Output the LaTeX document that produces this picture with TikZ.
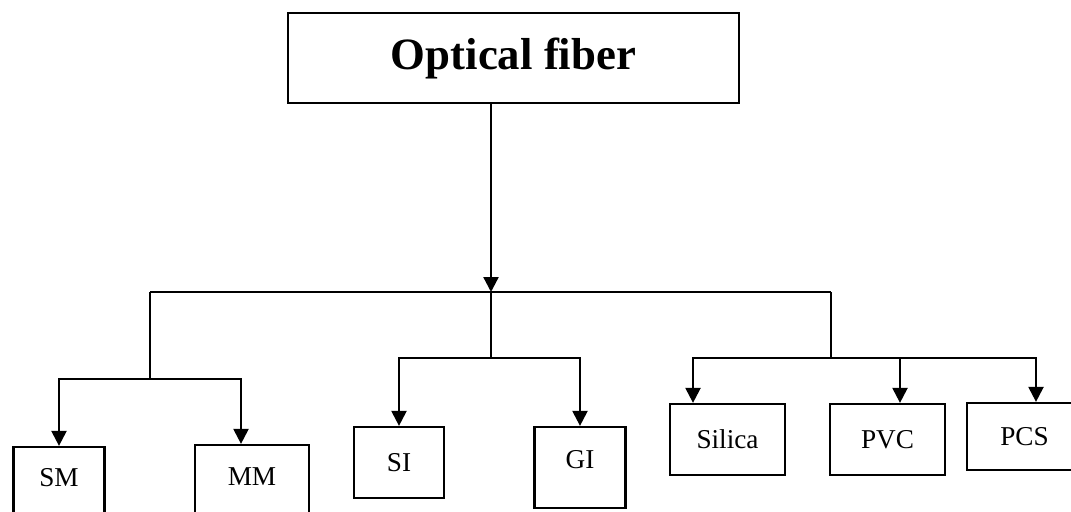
\documentclass[tikz,border=0pt]{standalone}
\usepackage{fontspec}
\setmainfont{Liberation Serif}
\usetikzlibrary{arrows.meta, positioning, calc}

\tikzset{
  fbox/.style={draw=black, line width=1.3pt, inner sep=0pt, minimum height=1.42cm, font=\fontsize{15.5}{18}\selectfont},
  flink/.style={line width=1.3pt},
  farrow/.style={line width=1.3pt, -{Triangle[length=0.3cm, width=0.3cm]}}
}

\begin{document}
\begin{tikzpicture}[x=0.02cm, y=-0.02cm]
  \useasboundingbox (0,0) rectangle (1071,511);
  % Root
  \node[draw=black, line width=1.3pt, minimum width=9.02cm, minimum height=1.8cm, font=\fontsize{25.5}{30}\selectfont\bfseries] (OF) at (513.5, 58) {Optical fiber};
  % Mode
  \node[fbox, minimum width=1.82cm, minimum height=1.8cm, text depth=0.6cm] (SM) at (59, 492) {SM};
  \node[fbox, minimum width=2.28cm, minimum height=1.8cm, text depth=0.52cm] (MM) at (252, 490) {MM};
  % Index profile
  \node[fbox, minimum width=1.8cm] (SI) at (399, 462.5) {SI};
  \node[fbox, minimum width=1.82cm, minimum height=1.62cm, text depth=0.32cm] (GI) at (580, 467.5) {GI};
  % Material
  \node[fbox, minimum width=2.3cm] (Silica) at (727.5, 439.5) {Silica};
  \node[fbox, minimum width=2.3cm] (PVC) at (887.5, 439.5) {PVC};
  \node[fbox, minimum width=2.3cm, minimum height=1.34cm] (PCS) at (1024.5, 436.5) {PCS};
  % Junctions
  \coordinate (hub) at (491, 292);
  \coordinate (lft) at (150, 292);
  \coordinate (rgt) at (831, 292);
  \coordinate (lftb) at (150, 379);
  \coordinate (midb) at (491, 358);
  \coordinate (rgtb) at (831, 358);
  % Trunk
  \draw[farrow] (hub |- OF.south) -- (hub);
  \draw[flink] (lft) -- (rgt);
  % Left branch
  \draw[flink] (lft) -- (lftb);
  \draw[farrow] (lftb) -| (SM.north);
  \draw[farrow] (lftb) -| ([xshift=-0.22cm]MM.north);
  % Middle branch
  \draw[flink] (hub) -- (midb);
  \draw[farrow] (midb) -| (SI.north);
  \draw[farrow] (midb) -| (GI.north);
  % Right branch
  \draw[flink] (rgt) -- (rgtb);
  \draw[farrow] (rgtb) -| ([xshift=-0.69cm]Silica.north);
  \draw[farrow] (rgtb) -| ([xshift=0.25cm]PVC.north);
  \draw[farrow] (rgtb) -| ([xshift=0.23cm]PCS.north);
\end{tikzpicture}
\end{document}
